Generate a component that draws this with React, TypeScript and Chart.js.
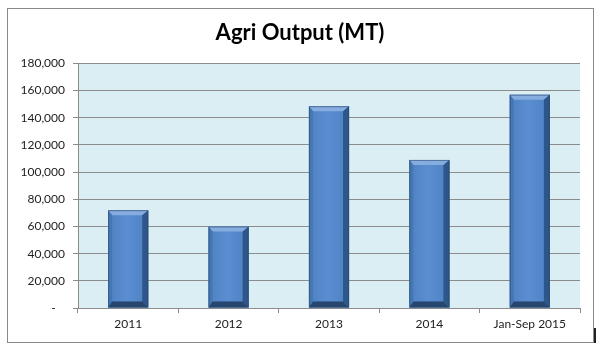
import React, { useEffect, useRef } from 'react';
import { Chart, registerables } from 'chart.js';

Chart.register(...registerables);

const categories = ['2011', '2012', '2013', '2014', 'Jan-Sep 2015'];
const outputMT = [72000, 60000, 148500, 109000, 157000];
const yMin = 0;
const yMax = 180000;
const yStep = 20000;
const titleText = 'Agri Output (MT)';

const FONT = 'Lato, "Open Sans", sans-serif';

const plotBgPlugin = {
  id: 'plotBg',
  beforeDraw(chart: any) {
    const { ctx, chartArea } = chart;
    if (!chartArea) return;
    ctx.save();
    ctx.fillStyle = '#DAEEF3';
    ctx.fillRect(chartArea.left, chartArea.top, chartArea.right - chartArea.left, chartArea.bottom - chartArea.top);
    ctx.restore();
  },
};

function poly(ctx: CanvasRenderingContext2D, pts: number[][], color: string) {
  ctx.beginPath();
  ctx.moveTo(pts[0][0], pts[0][1]);
  for (let i = 1; i < pts.length; i++) ctx.lineTo(pts[i][0], pts[i][1]);
  ctx.closePath();
  ctx.fillStyle = color;
  ctx.fill();
}

const bevelPlugin = {
  id: 'bevel',
  afterDatasetsDraw(chart: any) {
    const ctx: CanvasRenderingContext2D = chart.ctx;
    const meta = chart.getDatasetMeta(0);
    ctx.save();
    meta.data.forEach((el: any) => {
      const { x, y, base, width } = el.getProps(['x', 'y', 'base', 'width'], true);
      const L = x - width / 2;
      const R = x + width / 2;
      const T = Math.min(y, base);
      const B = Math.max(y, base);
      const bt = 5, bl = 4, br = 6, bb = 6;
      const g = ctx.createLinearGradient(L + bl, 0, R - br, 0);
      g.addColorStop(0, '#5284C4');
      g.addColorStop(0.5, '#5A8ED2');
      g.addColorStop(1, '#5084C6');
      ctx.fillStyle = g;
      ctx.fillRect(L + bl, T + bt, R - L - bl - br, B - T - bt - bb);
      poly(ctx, [[L, T], [R, T], [R - br, T + bt], [L + bl, T + bt]], '#86ADE0');
      poly(ctx, [[L, T], [L + bl, T + bt], [L + bl, B - bb], [L, B]], '#4677B5');
      poly(ctx, [[R, T], [R, B], [R - br, B - bb], [R - br, T + bt]], '#2D5689');
      poly(ctx, [[L, B], [L + bl, B - bb], [R - br, B - bb], [R, B]], '#264670');
      ctx.strokeStyle = 'rgba(40,70,110,0.6)';
      ctx.lineWidth = 1;
      ctx.strokeRect(L + 0.5, T + 0.5, R - L - 1, B - T - 1);
    });
    ctx.restore();
  },
};

export default function App() {
  const ref = useRef<HTMLCanvasElement | null>(null);

  useEffect(() => {
    if (!ref.current) return;
    const chart = new Chart(ref.current, {
      type: 'bar',
      data: {
        labels: categories,
        datasets: [
          {
            label: 'Agri Output (MT)',
            data: outputMT,
            backgroundColor: '#4F81BD',
            borderWidth: 0,
            barPercentage: 0.4,
            categoryPercentage: 1,
          },
        ],
      },
      options: {
        responsive: false,
        animation: false,
        layout: { padding: { left: 20, right: 26, top: 0, bottom: 0 } },
        plugins: {
          legend: { display: false },
          tooltip: { enabled: false },
          title: {
            display: true,
            text: titleText,
            color: '#000',
            font: { family: FONT, size: 22, weight: 'bold' },
            padding: { top: 20, bottom: 17 },
          },
        },
        scales: {
          x: {
            grid: {
              display: true,
              drawOnChartArea: false,
              drawTicks: true,
              tickLength: 5,
              color: '#8c8c8c',
              offset: true,
            },
            border: { display: true, color: '#8c8c8c' },
            ticks: {
              color: '#222',
              font: { family: FONT, size: 12 },
              padding: 4,
              maxRotation: 0,
              autoSkip: false,
            },
            afterFit(scale: any) {
              scale.height = 47;
            },
          },
          y: {
            min: yMin,
            max: yMax,
            grid: {
              color: '#8c8c8c',
              tickLength: 5,
            },
            border: { display: true, color: '#8c8c8c' },
            ticks: {
              stepSize: yStep,
              color: '#222',
              font: { family: FONT, size: 12 },
              padding: 8,
              callback: (v: any) => (Number(v) === 0 ? '-   ' : Number(v).toLocaleString('en-US')),
            },
            afterFit(scale: any) {
              scale.width = 58;
            },
          },
        },
      },
      plugins: [plotBgPlugin, bevelPlugin],
    });
    return () => chart.destroy();
  }, []);

  return (
    <div style={{ position: 'fixed', left: 0, top: 0, width: 606, height: 355, background: '#fff' }}>
      <div
        style={{
          position: 'absolute',
          left: 7,
          top: 8,
          width: 587,
          height: 335,
          border: '1px solid #8a8a8a',
          boxSizing: 'border-box',
        }}
      />
      <div style={{ position: 'absolute', left: 594, top: 328, width: 2, height: 15, background: '#222' }} />
      <canvas ref={ref} width={606} height={355} style={{ position: 'absolute', left: 0, top: 0 }} />
    </div>
  );
}
